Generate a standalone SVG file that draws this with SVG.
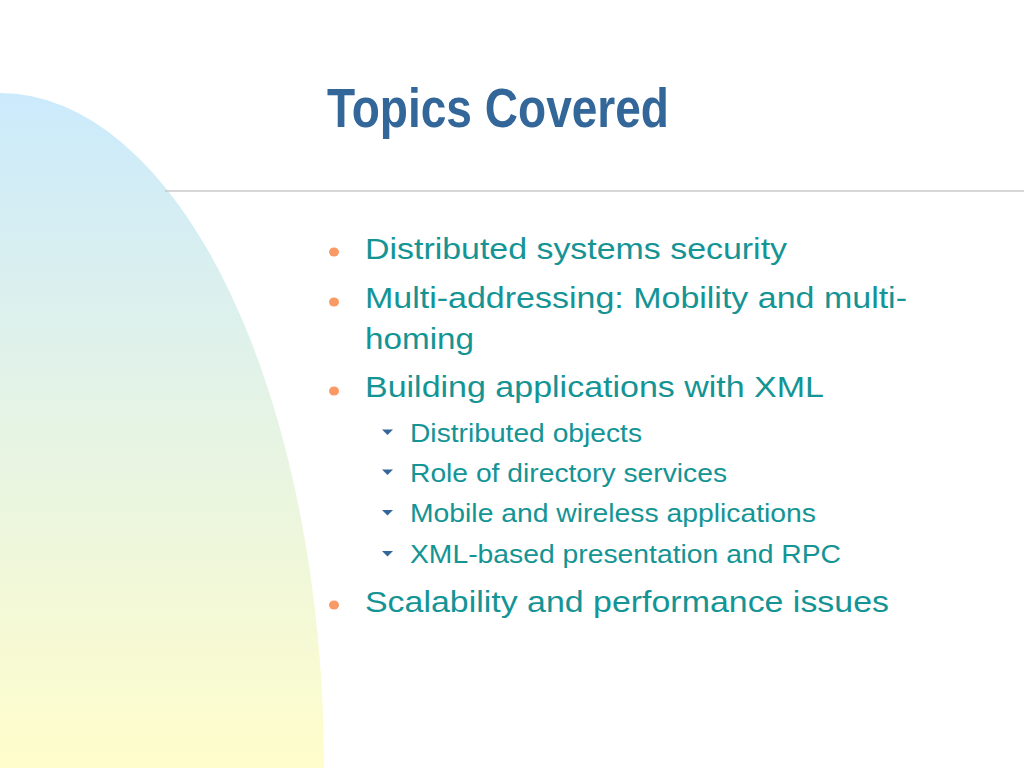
<svg xmlns="http://www.w3.org/2000/svg" width="1024" height="768" viewBox="0 0 1024 768">
  <defs>
    <linearGradient id="bgGrad" x1="0" y1="93" x2="0" y2="768" gradientUnits="userSpaceOnUse">
      <stop offset="0" stop-color="#CBEAFC"/>
      <stop offset="0.5" stop-color="#E6F4E4"/>
      <stop offset="1" stop-color="#FFFDCB"/>
    </linearGradient>
  </defs>
  <style>
    .title { font-family: "Liberation Sans Narrow", "Liberation Sans", Arial, sans-serif; font-weight: bold; font-size: 56px; fill: #336699; }
    .l1 { font-family: "Liberation Sans", Arial, sans-serif; font-size: 30px; fill: #149494; }
    .l2 { font-family: "Liberation Sans", Arial, sans-serif; font-size: 25px; fill: #149494; }
    .dot { fill: #F99A66; }
    .tri { fill: #336699; }
    .rule { stroke: #C8C8C8; stroke-width: 1.5; fill: none; }
  </style>

  <rect x="0" y="0" width="1024" height="768" fill="#FFFFFF"/>

  <g id="background-shape">
    <path d="M0,93 A324,675 0 0 1 324,768 L0,768 Z" fill="url(#bgGrad)"/>
  </g>

  <g id="title">
    <text class="title" x="327" y="127" textLength="342" lengthAdjust="spacingAndGlyphs">Topics Covered</text>
    <line class="rule" x1="165" y1="191" x2="1024" y2="191"/>
  </g>

  <g id="bullet-1">
    <ellipse class="dot" cx="334" cy="252" rx="5" ry="4.5"/>
    <text class="l1" x="365" y="259" textLength="422" lengthAdjust="spacingAndGlyphs">Distributed systems security</text>
  </g>

  <g id="bullet-2">
    <ellipse class="dot" cx="334" cy="302" rx="5" ry="4.5"/>
    <text class="l1" x="365" y="308" textLength="542" lengthAdjust="spacingAndGlyphs">Multi-addressing: Mobility and multi-</text>
    <text class="l1" x="365" y="349" textLength="109" lengthAdjust="spacingAndGlyphs">homing</text>
  </g>

  <g id="bullet-3">
    <ellipse class="dot" cx="334" cy="391" rx="5" ry="4.5"/>
    <text class="l1" x="365" y="397" textLength="459" lengthAdjust="spacingAndGlyphs">Building applications with XML</text>
  </g>

  <g id="sub-1">
    <polygon class="tri" points="382,429.5 393,429.5 387.5,435"/>
    <text class="l2" x="410" y="442" textLength="232" lengthAdjust="spacingAndGlyphs">Distributed objects</text>
  </g>

  <g id="sub-2">
    <polygon class="tri" points="382,469.5 393,469.5 387.5,475"/>
    <text class="l2" x="410" y="482" textLength="317" lengthAdjust="spacingAndGlyphs">Role of directory services</text>
  </g>

  <g id="sub-3">
    <polygon class="tri" points="382,510 393,510 387.5,515.5"/>
    <text class="l2" x="410" y="522" textLength="406" lengthAdjust="spacingAndGlyphs">Mobile and wireless applications</text>
  </g>

  <g id="sub-4">
    <polygon class="tri" points="382,551 393,551 387.5,556.5"/>
    <text class="l2" x="410" y="563" textLength="431" lengthAdjust="spacingAndGlyphs">XML-based presentation and RPC</text>
  </g>

  <g id="bullet-4">
    <ellipse class="dot" cx="334" cy="605" rx="5" ry="4.5"/>
    <text class="l1" x="365" y="612" textLength="524" lengthAdjust="spacingAndGlyphs">Scalability and performance issues</text>
  </g>

  <g id="connectors"></g>
</svg>
